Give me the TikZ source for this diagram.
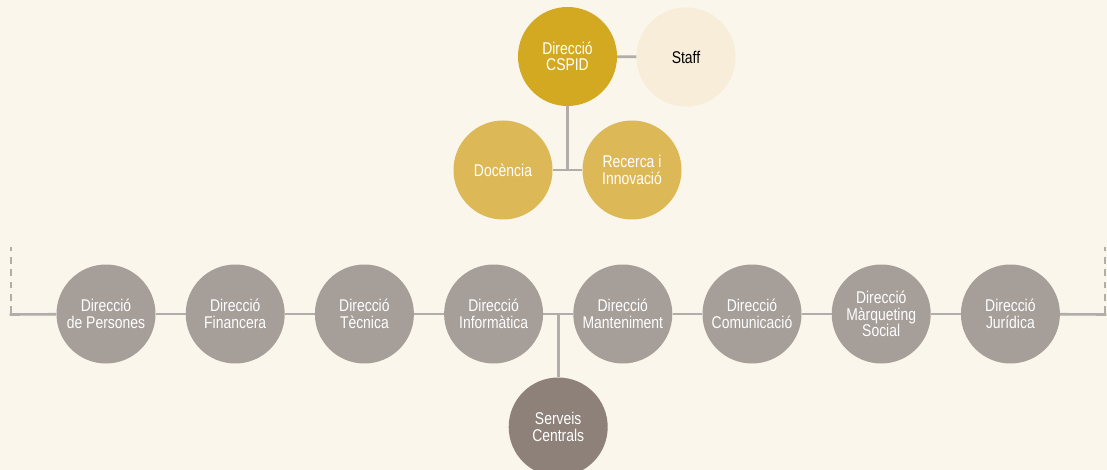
\documentclass[tikz,border=0pt]{standalone}
\usepackage{fontspec}
\setmainfont{Liberation Sans}[FakeStretch=0.82]
\definecolor{bgc}{HTML}{FAF6EB}
\definecolor{cspidc}{HTML}{D3A922}
\definecolor{staffc}{HTML}{F7EDD9}
\definecolor{goldc}{HTML}{DDB857}
\definecolor{grayc}{HTML}{A59E99}
\definecolor{servc}{HTML}{8D8179}
\definecolor{linec}{HTML}{B1ADA8}
\begin{document}
\begin{tikzpicture}[x=1pt,y=-1pt,
  bubble/.style={circle,minimum size=99pt,inner sep=0pt,align=center,text=white,
    font=\fontsize{17}{16.5}\selectfont},
  conn/.style={draw=linec,line width=2.6pt},
  dconn/.style={draw=linec,line width=2.6pt,dash pattern=on 6.8pt off 5.6pt}]
\fill[bgc] (0,0) rectangle (1107,470);
\useasboundingbox (0,0) rectangle (1107,470);
% top group
\node[bubble,fill=cspidc] (cspid) at (567.5,56.5) {Direcció\\CSPID};
\node[bubble,fill=staffc,text=black] (staff) at (686,57) {Staff};
\node[bubble,fill=goldc] (doc) at (503,170) {Docència};
\node[bubble,fill=goldc] (rec) at (632,170) {Recerca i\\Innovació};
\coordinate (t) at (567.5,170);
\draw[conn] (cspid) -- (staff);
\draw[conn] (cspid) -- (t);
\draw[conn] (doc) -- (rec);
% bottom row
\node[bubble,fill=grayc] (c1) at (106,314) {Direcció\\de Persones};
\node[bubble,fill=grayc] (c2) at (235.2,314) {Direcció\\Financera};
\node[bubble,fill=grayc] (c3) at (364.4,314) {Direcció\\Tècnica};
\node[bubble,fill=grayc] (c4) at (493.6,314) {Direcció\\Informàtica};
\node[bubble,fill=grayc] (c5) at (622.8,314) {Direcció\\Manteniment};
\node[bubble,fill=grayc] (c6) at (752,314) {Direcció\\Comunicació};
\node[bubble,fill=grayc] (c7) at (881.2,314) {Direcció\\Màrqueting\\Social};
\node[bubble,fill=grayc] (c8) at (1010.4,314) {Direcció\\Jurídica};
\node[bubble,fill=servc] (serv) at (558.2,427) {Serveis\\Centrals};
\coordinate (lc) at (11,314.5);
\coordinate (lt) at (11,247);
\coordinate (rc) at (1105,314.5);
\coordinate (rt) at (1105,247);
\coordinate (j) at (558.2,314.5);
\draw[dconn] ([yshift=1.3pt]lc) -- (lt);
\draw[dconn] ([yshift=1.3pt]rc) -- (rt);
\draw[conn] ([xshift=-1.3pt]lc) -- (c1);
\draw[conn] (c1) -- (c2);
\draw[conn] (c2) -- (c3);
\draw[conn] (c3) -- (c4);
\draw[conn] (c4) -- (c5);
\draw[conn] (c5) -- (c6);
\draw[conn] (c6) -- (c7);
\draw[conn] (c7) -- (c8);
\draw[conn] (c8) -- ([xshift=1.3pt]rc);
\draw[conn] (j) -- (serv);
\end{tikzpicture}
\end{document}
